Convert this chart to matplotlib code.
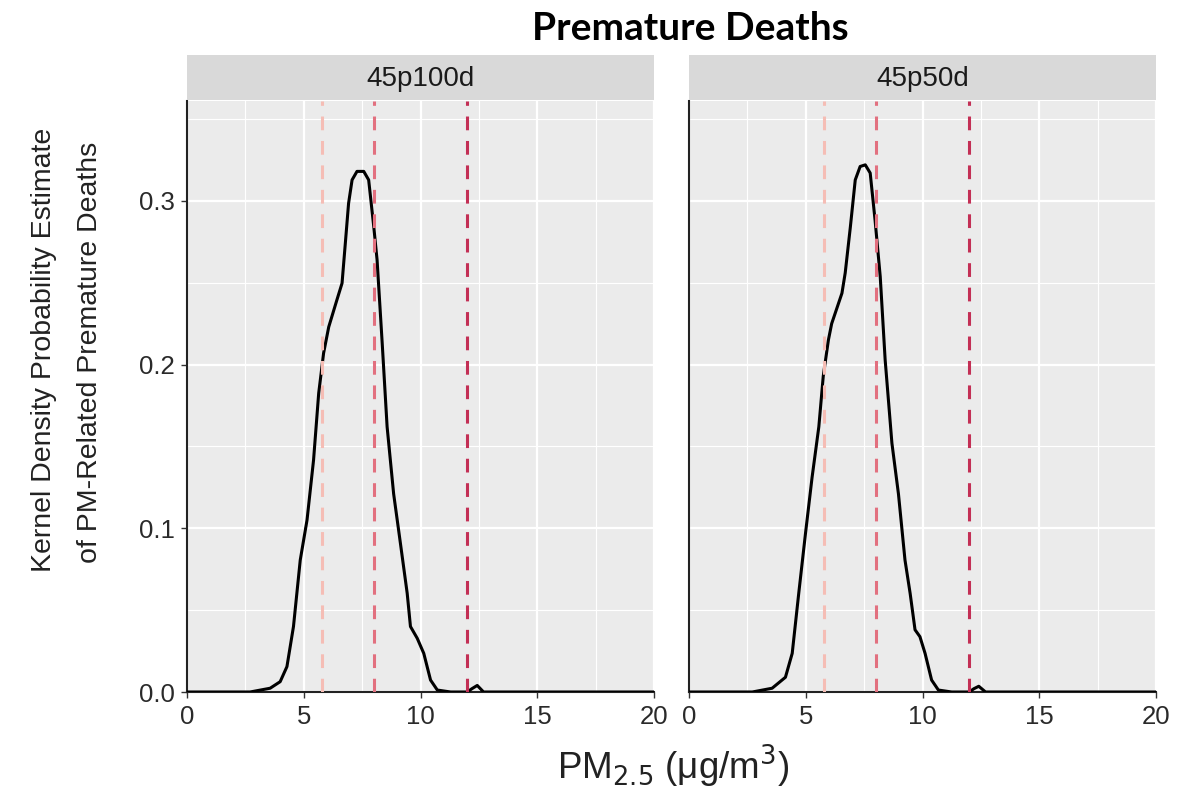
import numpy as np
import matplotlib
matplotlib.use("Agg")
import matplotlib.pyplot as plt

# density curves (PM2.5 in ug/m3, density)
pm_100d = [0, 2.7, 3.56, 3.99, 4.28, 4.56, 4.85, 5.14, 5.42, 5.64, 5.85, 6.07, 6.42,
           6.64, 6.78, 6.92, 7.07, 7.28, 7.57, 7.78, 8.0, 8.14, 8.36, 8.57, 8.85,
           9.14, 9.43, 9.57, 9.86, 10.14, 10.43, 10.72, 11.29, 12.0, 12.2, 12.43,
           12.7, 20]
dens_100d = [0, 0, 0.0023, 0.0063, 0.0155, 0.040, 0.0806, 0.105, 0.1417, 0.1825,
             0.207, 0.223, 0.2395, 0.2497, 0.274, 0.2985, 0.3128, 0.318, 0.318, 0.3128,
             0.284, 0.264, 0.213, 0.162, 0.121, 0.0908, 0.0603, 0.040, 0.0328, 0.0236,
             0.0073, 0.0012, 0, 0, 0.002, 0.004, 0, 0]

pm_50d = [0, 2.71, 3.56, 4.13, 4.42, 4.70, 4.99, 5.27, 5.56, 5.75, 5.97, 6.11, 6.55,
          6.69, 6.91, 7.12, 7.33, 7.55, 7.76, 7.97, 8.19, 8.40, 8.69, 8.97, 9.25,
          9.47, 9.68, 9.89, 10.11, 10.39, 10.68, 11.25, 12.0, 12.2, 12.41, 12.7, 20]
dens_50d = [0, 0, 0.0023, 0.009, 0.0236, 0.0603, 0.097, 0.131, 0.162, 0.193, 0.215,
            0.225, 0.2436, 0.256, 0.284, 0.3128, 0.321, 0.322, 0.317, 0.288, 0.2537,
            0.203, 0.152, 0.121, 0.0806, 0.0603, 0.038, 0.0338, 0.0236, 0.0073,
            0.0012, 0, 0, 0.002, 0.0035, 0, 0]

panels = ["45p100d", "45p50d"]
curves = [(pm_100d, dens_100d), (pm_50d, dens_50d)]
ref_lines = [5.8, 8.0, 12.0]
ref_colors = ["#F5BDB5", "#E2707F", "#C32F55"]

plt.rcParams['font.family'] = ['Liberation Sans', 'DejaVu Sans']

fig = plt.figure(figsize=(11.88, 7.94), dpi=100)
W, H = 1188.0, 794.0
lefts = [187, 689]
pw = 467
bottom, top = 692, 101
strip_h = 45

for i, name in enumerate(panels):
    ax = fig.add_axes([lefts[i] / W, 1 - bottom / H, pw / W, (bottom - top) / H])
    ax.set_facecolor("#EBEBEB")
    ax.set_xlim(0, 20)
    ax.set_ylim(0, 0.361)
    ax.set_xticks([0, 5, 10, 15, 20])
    ax.set_xticks([2.5, 7.5, 12.5, 17.5], minor=True)
    ax.set_yticks([0.0, 0.1, 0.2, 0.3])
    ax.set_yticks([0.05, 0.15, 0.25, 0.35], minor=True)
    ax.grid(True, which="major", color="white", linewidth=1.6)
    ax.grid(True, which="minor", color="white", linewidth=0.8)
    ax.set_axisbelow(True)
    for s in ["top", "right"]:
        ax.spines[s].set_visible(False)
    for s in ["left", "bottom"]:
        ax.spines[s].set_color("#222222")
        ax.spines[s].set_linewidth(1.5)
    ax.tick_params(which="major", length=4, width=1, color="#333333", pad=5,
                   labelsize=18.5, labelcolor="#2A2A2A")
    ax.tick_params(which="minor", length=0)
    ax.set_yticklabels(["0.0", "0.1", "0.2", "0.3"])
    if i > 0:
        ax.tick_params(axis="y", labelleft=False, length=0)

    x, y = curves[i]
    ax.plot(x, y, color="black", linewidth=2.2, zorder=3,
            solid_joinstyle="round")
    for v, c in zip(ref_lines, ref_colors):
        ax.axvline(v, color=c, linestyle=(0, (4.5, 3.5)), linewidth=2.2, zorder=4)

    # facet strip
    sax = fig.add_axes([lefts[i] / W, 1 - (top - 1) / H, pw / W, strip_h / H])
    sax.set_facecolor("#D9D9D9")
    sax.set_xticks([])
    sax.set_yticks([])
    for s in sax.spines.values():
        s.set_visible(False)
    sax.text(0.5, 0.47, name, ha="center", va="center", fontsize=20, color="#1A1A1A",
             transform=sax.transAxes)

fig.text(690 / W, 1 - 28 / H, "Premature Deaths", ha="center", va="center",
         fontsize=28, fontweight="bold", family=["Lato", "DejaVu Sans"])
fig.text(673 / W, 1 - 766 / H, r"PM$_{2.5}$ ($\mathregular{\mu}$g/m$^{3}$)",
         ha="center", va="center", fontsize=26.5, color="#222222")
fig.text(44 / W, 1 - 350 / H, "Kernel Density Probability Estimate",
         ha="center", va="center", rotation=90, fontsize=20.5, color="#222222")
fig.text(90 / W, 1 - 352 / H, "of PM-Related Premature Deaths",
         ha="center", va="center", rotation=90, fontsize=20.5, color="#222222")

fig.savefig("out.png", dpi=100)
